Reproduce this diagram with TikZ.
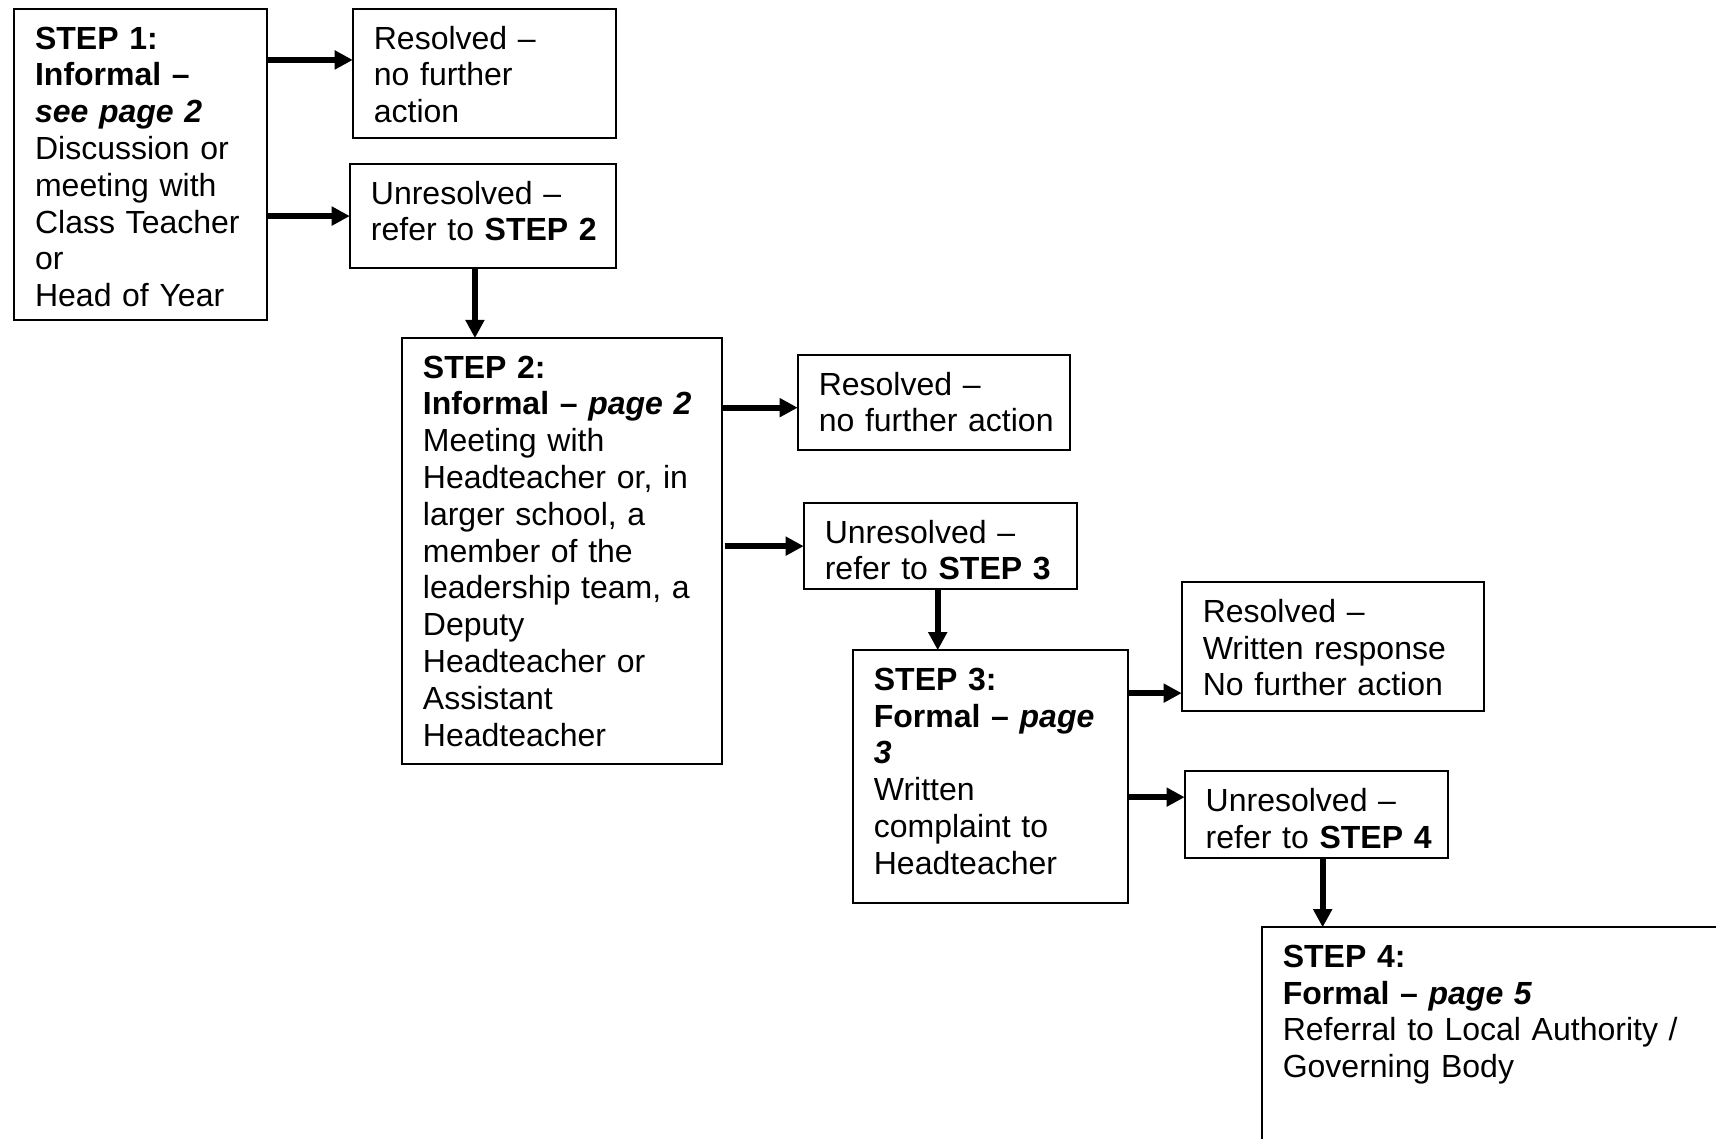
\documentclass[tikz,border=0pt]{standalone}
\usepackage{fontspec}
\setmainfont{Liberation Sans}
\usetikzlibrary{positioning,arrows.meta}

\tikzset{
  box/.style={draw, line width=0.75pt, rectangle, align=left, anchor=north west,
    inner xsep=7.9pt, inner ysep=0pt, outer sep=0pt, text height=15pt,
    font=\fontsize{12}{13.8}\selectfont},
  arr/.style={line width=2.2pt, -{Triangle[length=6.8pt,width=6.8pt]}}
}

\begin{document}
\begin{tikzpicture}[x=0.375pt, y=-0.375pt]
  \useasboundingbox (0,0) rectangle (1716,1139);
  \clip (0,0) rectangle (1716,1139);

  \node[box, text width=79pt, text depth=101.6pt] (step1) at (14,9)
    {\textbf{STEP 1:}\\ \textbf{Informal --}\\ \textbf{\textit{see page 2}}\\
     Discussion or\\ meeting with\\ Class Teacher\\ or\\ Head of Year};
  \node[box, text width=82.8pt, text depth=33.4pt, right=32.25pt of step1.north east, anchor=north west] (res1)
    {Resolved --\\ no further\\ action};
  \node[box, text width=83.9pt, text depth=24pt, below=9.75pt of res1.south west, anchor=north west, xshift=-1.1pt] (unres1)
    {Unresolved --\\ \mbox{refer to \textbf{STEP 2}}};

  \node[box, text width=104.15pt, text depth=144.75pt, below right=26.25pt and 19.5pt of unres1.south west] (step2)
    {\textbf{STEP 2:}\\ \textbf{Informal -- \textit{page 2}}\\ Meeting with\\ Headteacher or, in\\
     larger school, a\\ member of the\\ leadership team, a\\ Deputy\\ Headteacher or\\
     Assistant\\ Headteacher};
  \node[box, text width=86.15pt, text depth=20.6pt, below right=6.4pt and 28.5pt of step2.north east] (res2)
    {Resolved --\\ \mbox{no further action}};
  \node[box, text width=86.5pt, text depth=17.25pt, below right=19.9pt and 2.25pt of res2.south west] (unres2)
    {Unresolved --\\ \mbox{refer to \textbf{STEP 3}}};

  \node[box, text width=87.3pt, text depth=79.9pt, below right=22.9pt and 18.4pt of unres2.south west] (step3)
    {\textbf{STEP 3:}\\ \textbf{Formal -- \textit{page}}\\ \textbf{\textit{3}}\\
     Written\\ complaint to\\ Headteacher};
  \node[box, text width=97.4pt, text depth=33.4pt, right=20.25pt of step3.north east, anchor=north west, yshift=25.5pt] (res3)
    {Resolved --\\ Written response\\ No further action};
  \node[box, text width=82.8pt, text depth=17.6pt, below right=22.5pt and 1.1pt of res3.south west] (unres3)
    {Unresolved --\\ \mbox{refer to \textbf{STEP 4}}};

  \node[box, text width=173pt, text depth=82.5pt, below right=25.9pt and 28.9pt of unres3.south west] (step4)
    {\textbf{STEP 4:}\\ \textbf{Formal -- \textit{page 5}}\\ Referral to Local Authority /\\ Governing Body};

  % arrow start points
  \coordinate[below=19.1pt of step1.north east] (s1r);
  \coordinate[below=26.1pt of step2.north east] (s2r);
  \coordinate[below=16.1pt of step3.north east] (s3r);
  \coordinate[below=55.1pt of step3.north east] (s3u);
  \coordinate[right=46.9pt of unres1.south west] (u1d);
  \coordinate[right=50.25pt of unres2.south west] (u2d);
  \coordinate[right=51.75pt of unres3.south west] (u3d);

  \draw[arr] (s1r) -- (s1r -| res1.west);
  \draw[arr] (step1.east |- unres1.west) -- (unres1.west);
  \draw[arr] (u1d) -- (u1d |- step2.north);

  \draw[arr] (s2r) -- (s2r -| res2.west);
  \draw[arr] ([xshift=1.1pt]step2.east |- unres2.west) -- (unres2.west);
  \draw[arr] (u2d) -- (u2d |- step3.north);

  \draw[arr] (s3r) -- (s3r -| res3.west);
  \draw[arr] (s3u) -- (s3u -| unres3.west);
  \draw[arr] (u3d) -- (u3d |- step4.north);
\end{tikzpicture}
\end{document}
